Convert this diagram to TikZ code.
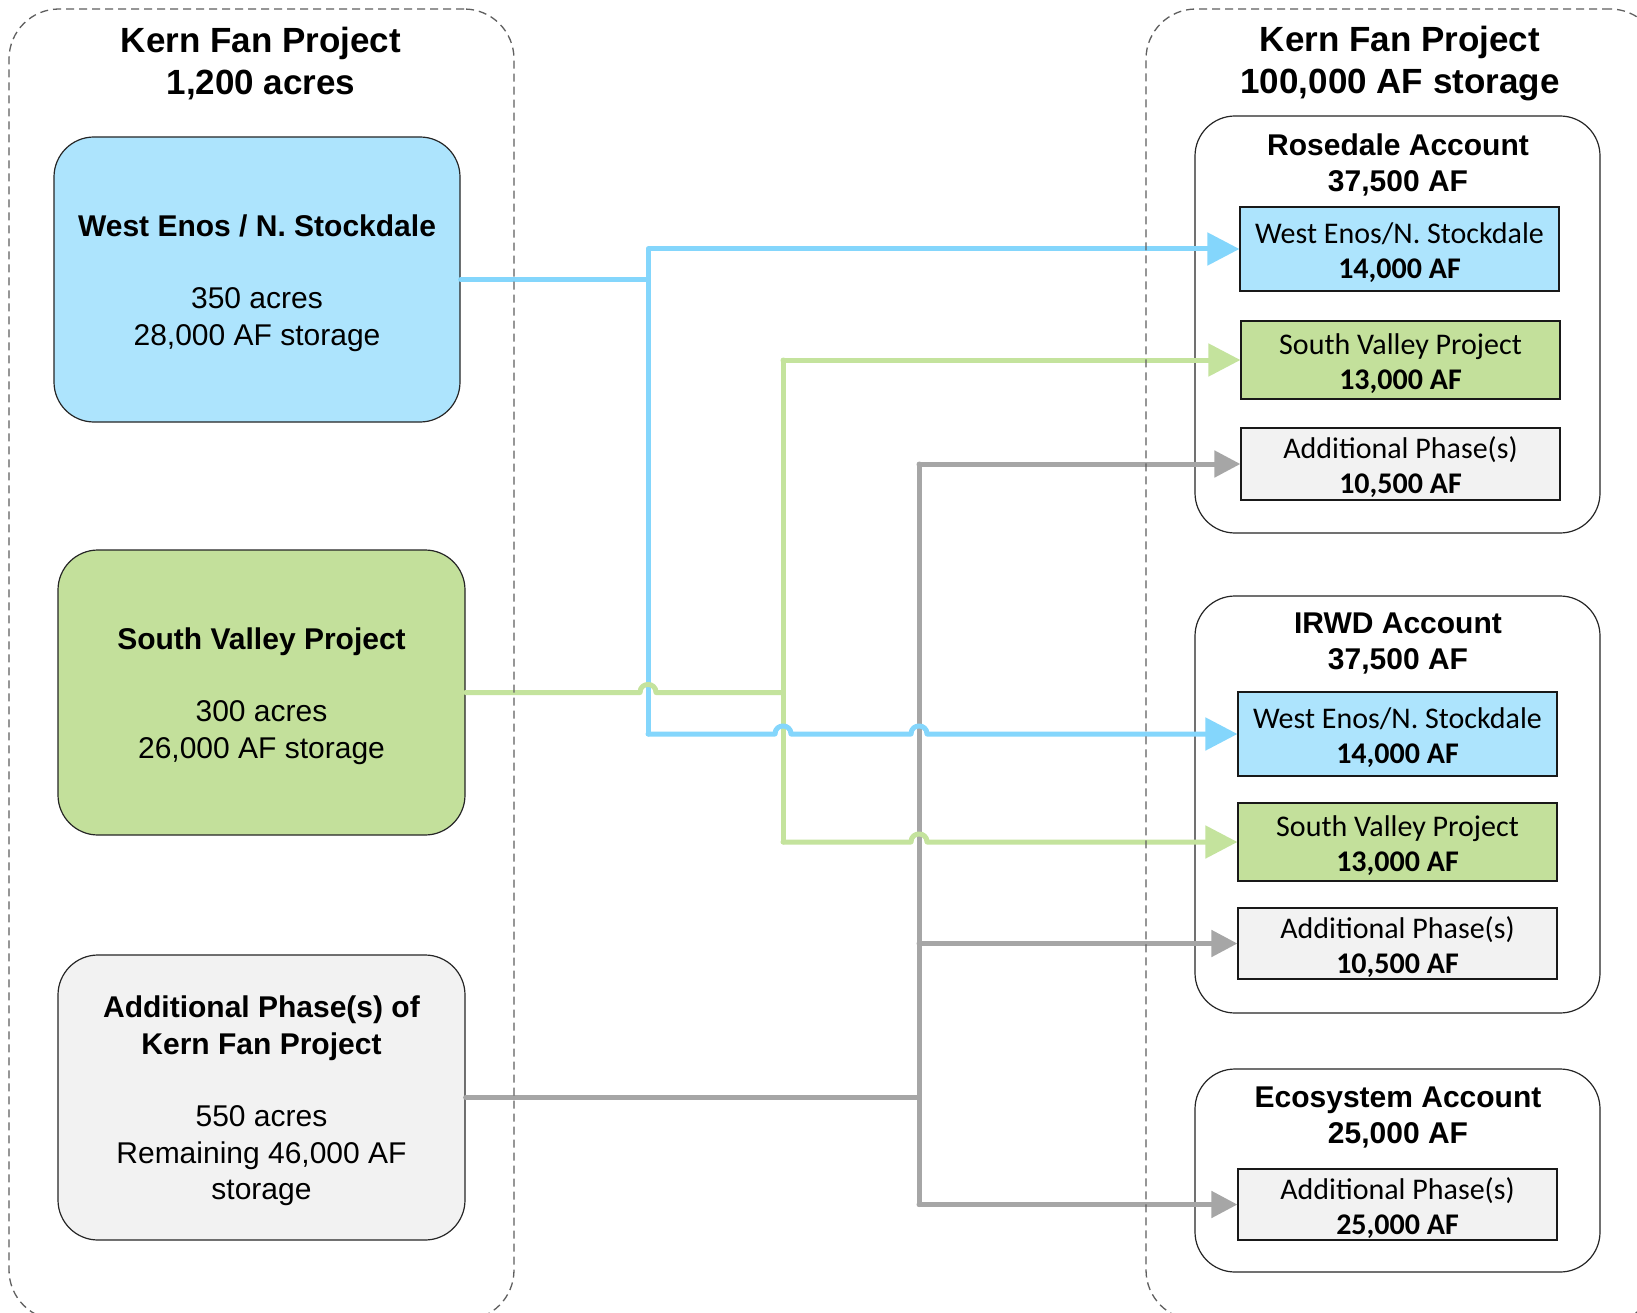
\documentclass[tikz,border=0pt]{standalone}
\usepackage{fontspec}
\setmainfont{Liberation Sans}
\newfontfamily\calib{Carlito}
\usetikzlibrary{arrows.meta}
\definecolor{bluefill}{HTML}{ADE4FD}
\definecolor{blueline}{HTML}{84D6FC}
\definecolor{greenfill}{HTML}{C3E09B}
\definecolor{greenline}{HTML}{C4E39D}
\definecolor{greyfill}{HTML}{F2F2F2}
\definecolor{greyline}{HTML}{A6A6A6}
\definecolor{dashgrey}{HTML}{5F5F5F}
\begin{document}
\begin{tikzpicture}[x=1pt,y=-1pt,
  container/.style={draw=dashgrey, line width=1.3pt, dash pattern=on 8pt off 5pt, rounded corners=50pt, inner sep=0pt},
  srcbox/.style={draw=black!85, line width=1.2pt, rounded corners=40pt, minimum width=406pt, minimum height=285pt, inner sep=0pt},
  srctext/.style={align=center, font=\fontsize{30}{36.5}\selectfont, inner sep=0pt, yshift=-3.5pt},
  acct/.style={draw=black!85, fill=white, line width=1.2pt, rounded corners=40pt, minimum width=405pt, inner sep=0pt},
  part/.style={draw=black!90, line width=1.2pt, minimum width=319pt, inner sep=0pt},
  parttext/.style={align=center, font=\calib\fontsize{30}{35}\selectfont, inner sep=0pt, yshift=-3.5pt},
  bigtitle/.style={align=center, font=\bfseries\fontsize{35}{41.5}\selectfont, yshift=-3.5pt},
  acctitle/.style={align=center, font=\bfseries\fontsize{30}{36}\selectfont, yshift=-3.5pt},
  flow/.style={line width=5pt, line join=round, line cap=round},
  bflow/.style={flow, draw=blueline},
  gflow/.style={flow, draw=greenline},
  aflow/.style={flow, draw=greyline},
  btip/.style={-{Triangle[length=32pt,width=32pt]}, blueline},
  gtip/.style={-{Triangle[length=32pt,width=32pt]}, greenline},
  atip/.style={-{Triangle[length=26pt,width=26pt]}, greyline}
]
\useasboundingbox (0,0) rectangle (1637,1313);
\clip (0,0) rectangle (1637,1313);
\fill[white] (0,0) rectangle (1637,1313);

% titles
\node[bigtitle] (ltitle) at (261,60) {Kern Fan Project\\1,200 acres};
\node[bigtitle] (rtitle) at (1400,60) {Kern Fan Project\\100,000 AF storage};

% source boxes
\node[srcbox, fill=bluefill] (b1) at (257,279.5) {};
\node[srctext] (b1t) at (b1.center) {\textbf{West Enos / N. Stockdale}\\[36pt]350 acres\\28,000 AF storage};
\node[srcbox, fill=greenfill, minimum width=407pt] (b2) at (261.5,692.5) {};
\node[srctext] (b2t) at (b2.center) {\textbf{South Valley Project}\\[36pt]300 acres\\26,000 AF storage};
\node[srcbox, fill=greyfill, minimum width=407pt] (b3) at (261.5,1097.5) {};
\node[srctext] (b3t) at (b3.center) {\textbf{Additional Phase(s) of}\\\textbf{Kern Fan Project}\\[36pt]550 acres\\Remaining 46,000 AF\\storage};

% accounts
\node[acct, minimum height=417pt] (ros) at (1397.5,324.5) {};
\node[acct, minimum height=417pt] (irwd) at (1397.5,804.5) {};
\node[acct, minimum height=203pt] (eco) at (1397.5,1170.5) {};
\node[acctitle] (rost) at (1398,161) {Rosedale Account\\37,500 AF};
\node[acctitle] (irwdt) at (1398,640) {IRWD Account\\37,500 AF};
\node[acctitle] (ecot) at (1398,1114) {Ecosystem Account\\25,000 AF};

% parts
\node[part, fill=bluefill, minimum height=84pt] (we1) at (1399.5,249) {};
\node[parttext] (we1t) at (we1.center) {West Enos/N. Stockdale\\\textbf{14,000 AF}};
\node[part, fill=greenfill, minimum height=78pt] (sv1) at (1400.5,360) {};
\node[parttext] (sv1t) at (sv1.center) {South Valley Project\\\textbf{13,000 AF}};
\node[part, fill=greyfill, minimum height=72pt] (ap1) at (1400.5,464) {};
\node[parttext] (ap1t) at (ap1.center) {Additional Phase(s)\\\textbf{10,500 AF}};
\node[part, fill=bluefill, minimum height=84pt] (we2) at (1397.5,734) {};
\node[parttext] (we2t) at (we2.center) {West Enos/N. Stockdale\\\textbf{14,000 AF}};
\node[part, fill=greenfill, minimum height=78pt] (sv2) at (1397.5,842) {};
\node[parttext] (sv2t) at (sv2.center) {South Valley Project\\\textbf{13,000 AF}};
\node[part, fill=greyfill, minimum height=71pt] (ap2) at (1397.5,943.5) {};
\node[parttext] (ap2t) at (ap2.center) {Additional Phase(s)\\\textbf{10,500 AF}};
\node[part, fill=greyfill, minimum height=71pt] (ap3) at (1397.5,1204.5) {};
\node[parttext] (ap3t) at (ap3.center) {Additional Phase(s)\\\textbf{25,000 AF}};

% trunk x positions
\coordinate (bx) at (648,0);
\coordinate (gx) at (783,0);
\coordinate (ax) at (919,0);

% grey flows
\draw[aflow] (b3.east) -- (b3.east -| ax);
\draw[aflow] (ap1.west -| ax) -- (ap3.west -| ax);
\draw[aflow, atip] (ap1.west -| ax) -- (ap1.west);
\draw[aflow, atip] (ap2.west -| ax) -- (ap2.west);
\draw[aflow, atip] (ap3.west -| ax) -- (ap3.west);

% blue trunk and top branch
\draw[bflow, btip] (b1.east) -- (b1.east -| bx) -- (we1.west -| bx) -- (we1.west);
\draw[bflow] (b1.east -| bx) -- (we2.west -| bx);

% green flows
\draw[gflow] (b2.east) -- (640,692.5) .. controls (640,681.8) and (656,681.8) .. (656,692.5) -- (b2.east -| gx);
\draw[gflow] (sv1.west -| gx) -- (sv2.west -| gx);
\draw[gflow, gtip] (sv1.west -| gx) -- (sv1.west);
\draw[gflow, gtip] (sv2.west -| gx) -- (911,842) .. controls (911,831.3) and (927,831.3) .. (927,842) -- (sv2.west);

% blue bottom branch with hops
\draw[bflow, btip] (we2.west -| bx) -- (775,734) .. controls (775,723.3) and (791,723.3) .. (791,734) -- (911,734) .. controls (911,723.3) and (927,723.3) .. (927,734) -- (we2.west);

% dashed containers
\node[container, minimum width=505pt, minimum height=1311pt] (leftc) at (261.5,664.5) {};
\node[container, minimum width=514pt, minimum height=1311pt] (rightc) at (1403,664.5) {};
\end{tikzpicture}
\end{document}
